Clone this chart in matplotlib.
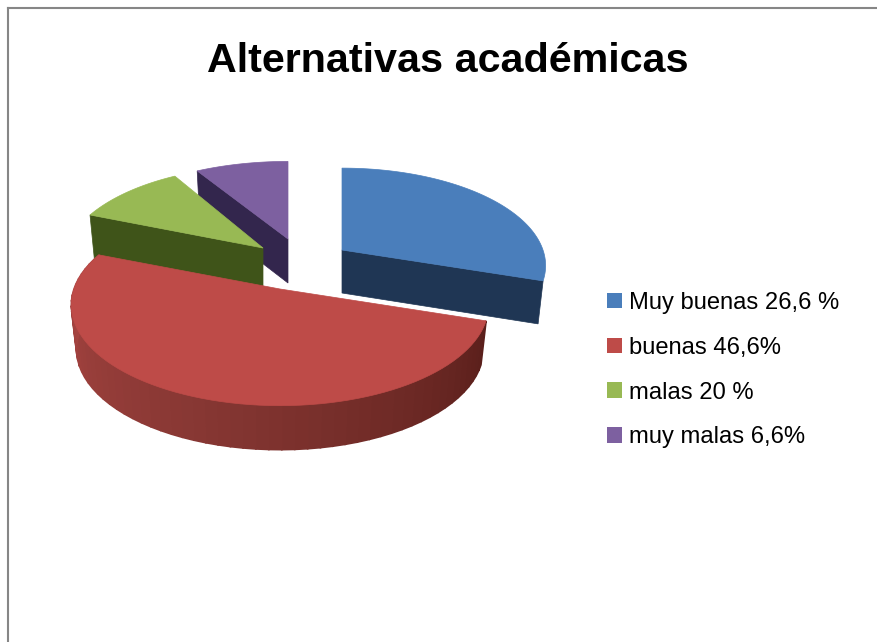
import numpy as np
import matplotlib
matplotlib.use('Agg')
import matplotlib.pyplot as plt
from matplotlib.colors import to_rgb
from matplotlib.patches import Patch

plt.rcParams['font.family'] = ['Liberation Sans', 'DejaVu Sans']

titleText = 'Alternativas académicas'
legendLabels = ['Muy buenas 26,6 %', 'buenas 46,6%', 'malas 20 %', 'muy malas 6,6%']
# the slices as drawn do not follow the labels, these are the shares
sliceShares = [30.0, 51.0, 10.5, 8.5]

topColors = ['#4A7EBB', '#BE4B48', '#98B954', '#7D60A0']
wallColors = ['#1F3654', '#5A1F1B', '#3F5419', '#33264D']

# pie layout in pixels: where each exploded slice has its tip and how big its ellipse is
tipX = [342, 280, 263, 288]
tipY = [250, 289, 248, 239]
radiusX = [201, 206, 197, 203]
radiusY = [95, 98, 95, 90]
depths = [43, 44, 44, 44]
perspective = 0.16
bottomShrink = 0.975
startAngle = 90


def rimPoints(i, angles):
    # perspective circle, far side comes out smaller than near side
    rad = np.radians(angles)
    den = 1 + perspective * np.sin(rad)
    x = tipX[i] + radiusX[i] * np.cos(rad) / den
    y = tipY[i] - radiusY[i] * np.sin(rad) / den
    return x, y


def dropDown(i, x, y):
    return tipX[i] + (x - tipX[i]) * bottomShrink, y + depths[i]


def radialWall(ax, i, angle):
    x, y = rimPoints(i, np.array([angle]))
    bx, by = dropDown(i, x, y)
    ax.fill([tipX[i], x[0], bx[0], tipX[i]], [tipY[i], y[0], by[0], tipY[i] + depths[i]],
            color=wallColors[i], lw=0.5)


def rimWall(ax, i, angleA, angleB):
    # rim of the big slice, cut in strips so the shade can run from left to right
    left = np.array(to_rgb('#AE4744'))
    mid = np.array(to_rgb('#873733'))
    right = np.array(to_rgb(wallColors[i]))
    edges = np.linspace(angleA, angleB, 60)
    x, y = rimPoints(i, edges)
    bx, by = dropDown(i, x, y)
    for j in range(len(edges) - 1):
        t = j / (len(edges) - 2)
        # t=0 is the right end of the rim here
        if t < 0.5:
            c = right + (mid - right) * t * 2
        else:
            c = mid + (left - mid) * (t - 0.5) * 2
        ax.fill([x[j], x[j + 1], bx[j + 1], bx[j]], [y[j], y[j + 1], by[j + 1], by[j]],
                facecolor=tuple(c), edgecolor=tuple(c), lw=1.2)


def topFace(ax, i, angleA, angleB):
    x, y = rimPoints(i, np.linspace(angleA, angleB, 80))
    ax.fill(np.r_[tipX[i], x], np.r_[tipY[i], y], color=topColors[i], lw=0.5)


def main():
    fig = plt.figure(figsize=(8.77, 6.42), dpi=100)
    ax = fig.add_axes([8 / 877, 0, 869 / 877, 634 / 642])
    ax.set_xlim(8, 877)
    ax.set_ylim(642, 8)
    ax.set_xticks([])
    ax.set_yticks([])
    for name in ['right', 'bottom']:
        ax.spines[name].set_visible(False)
    for name in ['left', 'top']:
        ax.spines[name].set_color('#868686')
        ax.spines[name].set_linewidth(1.5)

    # clockwise from the top like the office pie
    ends = startAngle - np.cumsum(sliceShares) * 3.6
    starts = np.r_[startAngle, ends[:-1]]

    # back to front: purple, green, blue, red
    radialWall(ax, 3, starts[3])
    topFace(ax, 3, starts[3], ends[3])
    radialWall(ax, 2, starts[2])
    topFace(ax, 2, starts[2], ends[2])
    radialWall(ax, 0, ends[0])
    topFace(ax, 0, starts[0], ends[0])
    rimWall(ax, 1, starts[1], ends[1])
    topFace(ax, 1, starts[1], ends[1])

    ax.text(448, 61, titleText, fontsize=29.7, fontweight='bold', ha='center', va='center', color='black')

    handles = [Patch(facecolor=c, edgecolor='none') for c in topColors]
    ax.legend(handles, legendLabels, loc='upper left', bbox_to_anchor=(607 / 877, 1 - 292 / 642),
              bbox_transform=fig.transFigure, frameon=False, fontsize=17.1,
              handlelength=0.63, handleheight=0.63, handletextpad=0.3, labelspacing=0.96,
              borderpad=0, borderaxespad=0, labelcolor='black')

    fig.savefig('out.png', dpi=100, facecolor='white')


if __name__ == "__main__":
    main()
